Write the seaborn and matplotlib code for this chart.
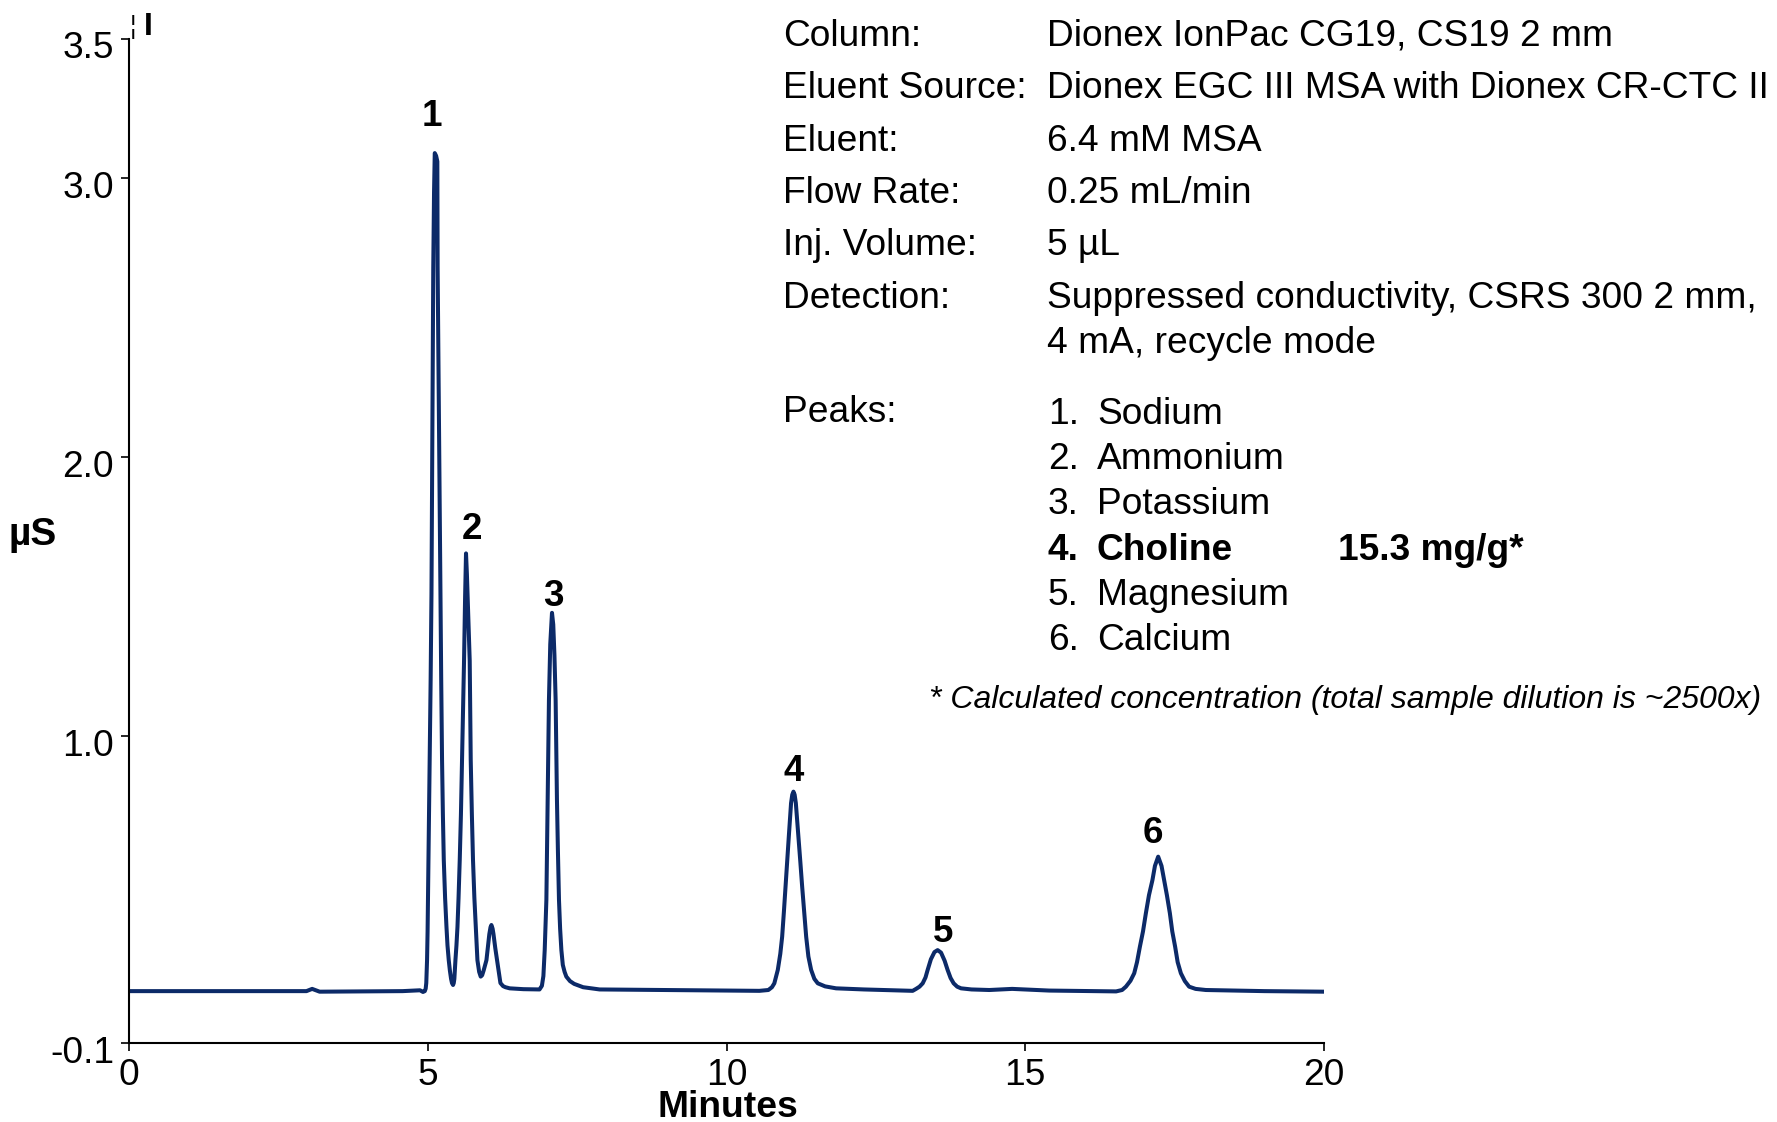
import pandas as pd
import seaborn as sns
import matplotlib.pyplot as plt
from matplotlib.transforms import ScaledTranslation

# trace (minutes, µS)
time_min = [0.00, 2.97, 3.065, 3.19, 4.58, 4.87, 4.92, 4.95, 4.965, 4.975, 4.988, 4.997,
            5.005, 5.02, 5.033, 5.048, 5.062, 5.077, 5.092, 5.105, 5.117, 5.14, 5.16,
            5.165, 5.19, 5.212, 5.225, 5.239, 5.253, 5.268, 5.29, 5.313, 5.33, 5.351,
            5.37, 5.39, 5.405, 5.423, 5.435, 5.445, 5.463, 5.48, 5.497, 5.515, 5.535,
            5.555, 5.574, 5.59, 5.607, 5.625, 5.640, 5.655, 5.68, 5.702, 5.719, 5.738,
            5.757, 5.78, 5.803, 5.831, 5.86, 5.886, 5.91, 5.935, 5.96, 5.982, 6.005,
            6.03, 6.05, 6.065, 6.085, 6.10, 6.13, 6.159, 6.19, 6.216, 6.26, 6.30, 6.371,
            6.6, 6.87, 6.91, 6.935, 6.957, 6.97, 6.985, 6.996, 7.007, 7.018, 7.028,
            7.05, 7.079, 7.10, 7.12, 7.140, 7.151, 7.162, 7.178, 7.196, 7.215, 7.236,
            7.26, 7.29, 7.319, 7.38, 7.45, 7.6, 7.876, 9.0, 10.55, 10.70, 10.76, 10.80,
            10.858, 10.90, 10.931, 10.96, 10.987, 11.015, 11.042, 11.08, 11.10, 11.12,
            11.14, 11.16, 11.204, 11.235, 11.266, 11.30, 11.333, 11.37, 11.416, 11.47,
            11.527, 11.65, 11.834, 12.3, 13.115, 13.172, 13.23, 13.283, 13.33, 13.366,
            13.42, 13.48, 13.533, 13.59, 13.65, 13.700, 13.75, 13.801, 13.86, 13.925,
            14.1, 14.398, 14.78, 15.40, 16.52, 16.62, 16.684, 16.76, 16.823, 16.87,
            16.918, 16.97, 17.018, 17.07, 17.128, 17.17, 17.224, 17.28, 17.324, 17.37,
            17.420, 17.46, 17.508, 17.55, 17.604, 17.67, 17.742, 17.85, 18.022, 19.0,
            20.0]
signal_us = [0.086, 0.086, 0.094, 0.084, 0.086, 0.089, 0.083, 0.086, 0.095, 0.115, 0.197, 0.30,
             0.44, 0.68, 0.914, 1.2, 1.51, 2.1, 2.68, 2.95, 3.09, 3.08, 3.06,
             2.68, 2.05, 1.51, 1.2, 0.914, 0.72, 0.556, 0.42, 0.316, 0.25, 0.197,
             0.16, 0.13, 0.115, 0.108, 0.115, 0.13, 0.197, 0.25, 0.316, 0.42, 0.556,
             0.72, 0.914, 1.09, 1.27, 1.5, 1.655, 1.58, 1.42, 1.27, 0.914, 0.72,
             0.556, 0.42, 0.316, 0.197, 0.155, 0.138, 0.143, 0.16, 0.18, 0.197, 0.24,
             0.29, 0.315, 0.323, 0.31, 0.29, 0.24, 0.197, 0.15, 0.115, 0.104, 0.10, 0.096,
             0.093, 0.092, 0.105, 0.14, 0.233, 0.32, 0.413, 0.59, 0.771, 0.95, 1.129,
             1.33, 1.442, 1.40, 1.29, 1.129, 0.95, 0.771, 0.59, 0.413, 0.31, 0.233,
             0.18, 0.155, 0.138, 0.122, 0.112, 0.10, 0.092, 0.09, 0.087, 0.09, 0.10, 0.114,
             0.162, 0.22, 0.281, 0.37, 0.46, 0.55, 0.639, 0.76, 0.79, 0.801,
             0.79, 0.76, 0.639, 0.55, 0.46, 0.37, 0.281, 0.21, 0.162, 0.13,
             0.114, 0.103, 0.096, 0.092, 0.087, 0.094, 0.102, 0.114, 0.135, 0.162,
             0.20, 0.226, 0.233, 0.224, 0.195, 0.162, 0.133, 0.114, 0.102, 0.096,
             0.092, 0.09, 0.094, 0.088, 0.085, 0.09, 0.102, 0.123, 0.15, 0.19,
             0.245, 0.30, 0.365, 0.43, 0.484, 0.535, 0.568, 0.535, 0.484, 0.43,
             0.365, 0.30, 0.245, 0.19, 0.15, 0.122, 0.102, 0.094, 0.09, 0.086,
             0.084]

peak_labels = ['1', '2', '3', '4', '5', '6']
peak_rt = [5.117, 5.640, 7.079, 11.12, 13.533, 17.224]
peak_top = [3.09, 1.655, 1.442, 0.801, 0.233, 0.568]

x_ticks = [0, 5, 10, 15, 20]
y_ticks = [-0.1, 1.0, 2.0, 3.0, 3.5]
y_tick_labels = ['-0.1', '1.0', '2.0', '3.0', '3.5']

cond_names = ['Column:', 'Eluent Source:', 'Eluent:', 'Flow Rate:', 'Inj. Volume:', 'Detection:', '']
cond_values = ['Dionex IonPac CG19, CS19 2 mm',
               'Dionex EGC III MSA with Dionex CR-CTC II',
               '6.4 mM MSA',
               '0.25 mL/min',
               '5 µL',
               'Suppressed conductivity, CSRS 300 2 mm,',
               '4 mA, recycle mode']
analytes = ['Sodium', 'Ammonium', 'Potassium', 'Choline', 'Magnesium', 'Calcium']
choline_conc = '15.3 mg/g*'
footnote = '* Calculated concentration (total sample dilution is ~2500x)'

df = pd.DataFrame({'Minutes': time_min, 'µS': signal_us})

sns.set_style('ticks')
plt.rcParams['font.family'] = ['Liberation Sans', 'DejaVu Sans']
plt.rcParams['text.color'] = 'black'
plt.rcParams['axes.labelcolor'] = 'black'

fig = plt.figure(figsize=(17.77, 11.22), dpi=100)
ax = fig.add_axes([0.0726, 0.0704, 0.6725, 0.8951])

sns.lineplot(data=df, x='Minutes', y='µS', sort=False, estimator=None,
             color='#0c2a68', linewidth=2.9, ax=ax)

ax.set_xlim(0, 20)
ax.set_ylim(-0.1, 3.5)
ax.set_xticks(x_ticks)
ax.set_xticklabels([str(v) for v in x_ticks])
ax.set_yticks(y_ticks)
ax.set_yticklabels(y_tick_labels)
ax.tick_params(direction='out', length=5.8, width=1.2, labelsize=26.7, pad=5,
               colors='black')
# y tick labels sit a little below their ticks in the original
shift = ScaledTranslation(0, -6 / 100, fig.dpi_scale_trans)
for lbl in ax.get_yticklabels():
    lbl.set_transform(lbl.get_transform() + shift)

for side in ['top', 'right']:
    ax.spines[side].set_visible(False)
for side in ['left', 'bottom']:
    ax.spines[side].set_linewidth(1.5)
    ax.spines[side].set_color('black')

ax.set_xlabel('Minutes', fontsize=26.8, fontweight='bold')
ax.xaxis.set_label_coords(0.501, -0.047)
ax.set_ylabel('µS', fontsize=28, fontweight='bold', rotation=0, va='center', ha='center')
ax.yaxis.set_label_coords(-0.081, 0.506)

# peak numbers
offsets = [(-2, 19.8), (4, 10.4), (0.7, 4.7), (0, 7.6), (4, 6.1), (-4, 9.7)]
for lab, t, h, off in zip(peak_labels, peak_rt, peak_top, offsets):
    ax.annotate(lab, (t, h), xytext=off, textcoords='offset points',
                ha='center', va='baseline', fontsize=26.5, fontweight='bold')

# small marks at the top of the y axis
fig.text(0.0732, 1 - 34 / 1122, '¦', fontsize=18, va='baseline')
fig.text(0.0808, 1 - 35 / 1122, 'I', fontsize=23, fontweight='heavy', va='baseline')

# conditions block
H = 1122
name_x = 783 / 1777
val_x = 1047 / 1777
row_base = [46, 98, 151, 203, 255, 308, 353]
for name, val, yb in zip(cond_names, cond_values, row_base):
    fig.text(name_x, 1 - yb / H, name, fontsize=26.7, va='baseline')
    fig.text(val_x, 1 - yb / H, val, fontsize=26.7, va='baseline')

fig.text(name_x, 1 - 422 / H, 'Peaks:', fontsize=26.7, va='baseline')
list_base = [424, 469, 514, 560, 605, 650]
for i, (name, yb) in enumerate(zip(analytes, list_base)):
    weight = 'bold' if name == 'Choline' else 'normal'
    fig.text(1048 / 1777, 1 - yb / H, f'{i + 1}.', fontsize=26.7, va='baseline', fontweight=weight)
    fig.text(1097 / 1777, 1 - yb / H, name, fontsize=26.7, va='baseline', fontweight=weight)
    if name == 'Choline':
        fig.text(1338 / 1777, 1 - yb / H, choline_conc, fontsize=26.7, va='baseline',
                 fontweight='bold')

fig.text(929 / 1777, 1 - 708 / H, footnote, fontsize=23, style='italic', va='baseline')

fig.savefig('out.png', dpi=100)
